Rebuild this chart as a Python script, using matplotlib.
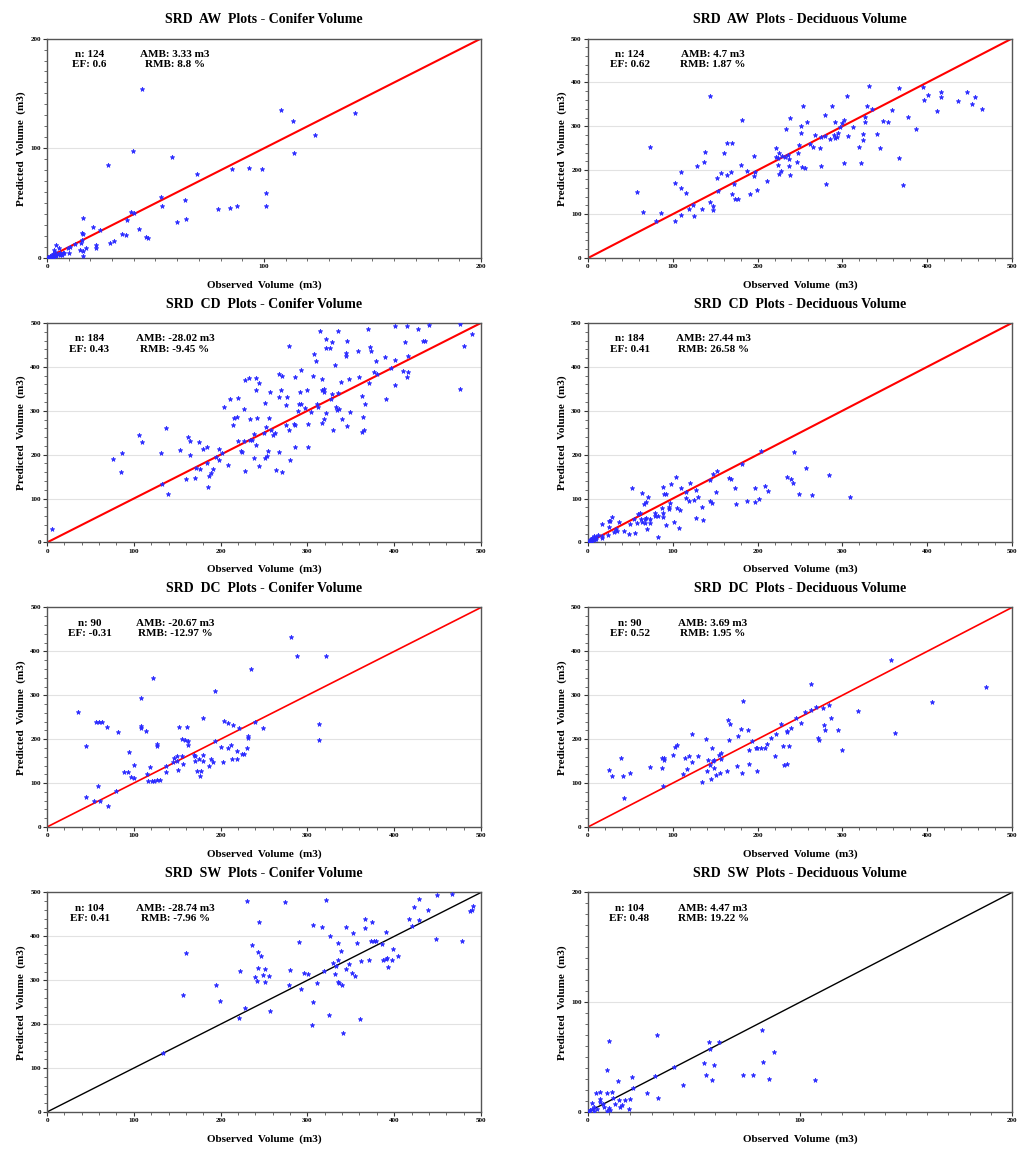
import matplotlib
matplotlib.use('Agg')
import matplotlib.pyplot as plt
from matplotlib.ticker import MultipleLocator

# ---- AW conifer ----
aw_con_obs = [43.9, 107.7, 113.3, 123.4, 142, 114, 39.8, 57.5, 27.9, 69.3, 85.2, 93.1, 99.1, 100.9, 100.9,
              87.4, 84.3, 78.9, 52.7, 53, 63.8, 59.9, 64.1, 38.8, 40.1, 36.7, 42.2, 45.6, 46.7, 34.4, 36.2,
              30.8, 29, 24.2, 21.4, 16.5, 16, 16.8, 15.9, 15.7, 22.6, 22.8, 17.9, 15.1, 16.6, 16.6, 12.9,
              10.5, 9.6, 10.2, 4, 5.4, 3.1, 3.5, 5.1, 6.6, 2.2, 0.5, 1.2, 2.8, 4.3, 5.9, 7.4, 4,
              0, 0.3, 0.8, 1.5, 2, 2.5, 3.2, 6, 7, 8, 1, 0.2]
aw_con_pred = [154, 135, 124.6, 111.9, 132.5, 95.7, 97.3, 92.1, 85.1, 76.6, 81.2, 81.8, 81.2, 59.3, 47.4,
               47.1, 45.6, 44.4, 55.3, 47.1, 52.6, 33.1, 35.3, 42.2, 41.3, 34.7, 26.7, 19.5, 18.5, 22.2, 21,
               15.5, 14, 25.8, 28, 36.5, 22.5, 22.2, 16.7, 13.7, 12.2, 9.4, 9.4, 7, 6.7, 1.8, 12.8,
               10, 9.4, 4.9, 12.2, 9.1, 7.6, 5.5, 4, 3.3, 2.4, 0.9, 1.5, 3.3, 2.4, 4.6, 4.6, 1.5,
               0, 0.5, 0.3, 0.6, 1, 1.8, 0.8, 2.5, 3, 4.2, 0.2, 0]

# ---- AW deciduous ----
aw_dec_obs = [57.9, 65, 73.6, 79.9, 86.2, 102.8, 102.8, 110.2, 110.2, 110.2, 115.7, 119.3, 123.6, 125.6,
              128.3, 135, 137.4, 138.2, 144.5, 143.7, 147.2, 147.2, 152.4, 153.5, 156.7, 161, 163.4, 164.2,
              168.1, 170, 170, 172, 173.2, 176.8, 179.9, 181.5, 187, 190.6, 196.1, 196.5, 195.7, 199.6,
              211.4, 221.7, 221.7, 224, 224.8, 224, 224.8, 227.2, 229.1, 231.9, 233.9, 235.8, 236.6, 237,
              237.8, 238.2, 246.9, 247.6, 248.4, 251.6, 251.6, 252, 253.5, 255.5, 257.9, 261.8, 265.4,
              268.1, 273.2, 274.4, 275.2, 279.1, 279.1, 280.3, 285, 288.2, 290.2, 291.7, 291.7, 294, 295.3,
              296.9, 300, 302, 302, 305.9, 306.7, 312.6, 319.7, 321.7, 324.4, 326.4, 326.4, 324.4, 331.5,
              329.5, 334.6, 341.3, 344.5, 347.6, 353.9, 358.7, 366.9, 367.3, 372.1, 378, 386.6, 395.7,
              396.5, 401.6, 412.2, 416.1, 416.9, 436.6, 447.6, 453.5, 456.7, 464.2]
aw_dec_pred = [150.7, 105.8, 251.9, 83.7, 103.5, 170.5, 83.7, 196.3, 159.1, 97.4, 147.6, 112.6, 121, 95.9,
               210, 112.6, 217.7, 240.5, 368.3, 127.9, 119.5, 109.6, 182.6, 153, 193.3, 239, 262.6, 189.5,
               195.6, 261, 145.4, 169, 135.5, 134, 212.3, 315.1, 197.9, 146.9, 231.4, 197.1, 187.2, 156,
               175, 251.1, 230.6, 228.3, 238.2, 211.6, 192.5, 198.6, 232.1, 230.6, 293, 234.4, 225.3, 209.3,
               318.1, 188.7, 219.2, 238.2, 257.2, 301.4, 285.4, 207.8, 345.5, 204, 309.8, 259.5, 253.4,
               280.1, 249.6, 276.3, 209.3, 326.5, 277.8, 169.7, 270.2, 346.3, 280.1, 309, 272.5, 275.5, 283.9,
               298.3, 308.2, 314.3, 216.9, 369.1, 277.8, 297.6, 251.9, 215.4, 282.6, 321.9, 309, 267.9, 391.9,
               346.3, 338.7, 282.6, 251.1, 312.8, 310.5, 337.1, 388.1, 228.3, 166.7, 321.9, 293, 388.9,
               360.7, 372.1, 334.1, 367.6, 377.5, 357.7, 379, 351.6, 367.6, 338.7]

# ---- CD conifer ----
cd_con_obs = [6.2, 76.3, 85.9, 84.7, 106.3, 109, 131, 132.9, 137.1, 139.1, 153.7, 160.3, 162.2, 165.3, 165.3,
              171, 172.2, 174.9, 176.4, 180.3, 184.2, 184.9, 185.7, 187.2, 189.5, 191.8, 194.2, 198, 198.4,
              201.8, 204.2, 208.4, 210.3, 213.8, 215.7, 218.8, 219.6, 220.3, 223.4, 224.2, 226.5, 227.3,
              228.5, 228.5, 232.7, 233.5, 234.3, 236.2, 238.1, 238.1, 240.4, 240.8, 241.2, 241.9, 243.9,
              244.2, 249.6, 251.5, 251.5, 251.9, 253.5, 255, 255.4, 256.9, 258.5, 260.8, 263.1, 263.5, 267,
              267.3, 267.7, 269.6, 270.8, 270.8, 275.5, 275, 276.6, 278.5, 279.3, 280.1, 284.4, 285.4, 285.8,
              286.2, 289.3, 290, 291.2, 292.4, 293.1, 297.8, 300.1, 300.5, 300.5, 304.7, 306.3, 307.4, 309.7,
              310.9, 312, 314.7, 316.3, 317.4, 317.4, 319, 319.3, 319, 320.9, 321.3, 321.7, 325.9, 327.8,
              326.7, 328.6, 329.8, 331.7, 332.4, 333.6, 335.2, 335.2, 336.3, 338.2, 340.2, 344.4, 344.8,
              345.9, 345.9, 348.3, 349.4, 358.6, 359, 362.5, 363.3, 363.6, 365.2, 366.7, 370.2, 370.9, 372.1,
              373.7, 376.7, 379.4, 380.6, 389.1, 390.2, 396.8, 400.6, 400.6, 400.6, 410.2, 412.5, 414.9, 416,
              416, 415.3, 427.6, 433.4, 435.3, 439.6, 475.8, 476.1, 480, 489.2]
cd_con_pred = [30.4, 189.5, 204.7, 161.3, 245.8, 229.8, 204.7, 133.9, 261, 109.6, 210, 144.6, 241.2, 230.6,
               199.4, 146.1, 170.5, 228.3, 166.7, 213.9, 218.4, 181.9, 127.1, 152.2, 157.5, 168.2, 195.6, 213.1,
               188, 204, 309.7, 176.6, 326.5, 267.9, 283.1, 286, 232.1, 328.8, 208.5, 205.5, 304.4, 232.1,
               162.1, 370.6, 373.7, 280.9, 232.9, 232.9, 247.3, 193.3, 373.7, 222.2, 346.3, 283.1, 362.3,
               174.3, 248.9, 317.3, 191.8, 263.3, 197.9, 209.3, 283.9, 341.7, 256.5, 244.3, 248.9, 165.1, 205.5,
               330.3, 384.3, 347.1, 379.8, 159.8, 268.7, 312.8, 330.3, 447.5, 256.5, 187.2, 270.2, 267.9, 376.7,
               218.4, 299.8, 315.1, 343.2, 392.7, 314.3, 305.9, 346.3, 270.2, 218.4, 297.5, 379.8, 429.2, 413.2,
               314.3, 309.7, 481.7, 346.3, 372.1, 273.2, 342.5, 350.1, 281.6, 295.3, 462.7, 442.2, 442.2, 456.6,
               325.7, 337.9, 257.2, 404.1, 309.7, 302.1, 481.7, 340.9, 303.7, 365.3, 281.6, 425.4, 431.5,
               458.1, 264.8, 372.1, 297.5, 436.8, 375.9, 251.9, 333.3, 286.1, 256.5, 314.3, 486.3, 362.3, 444.5,
               436.1, 387.4, 414, 382.8, 422.4, 327.2, 398, 493.9, 414.8, 357.7, 389.7, 455.9, 493.2, 423.9,
               387.4, 376.7, 486.3, 458.1, 459.6, 494.7, 497, 349.3, 446.7, 475.6]

# ---- CD deciduous ----
cd_dec_obs = [203.5, 243.3, 257.5, 283.9, 181.1, 151.6, 146.9, 144.5, 168.9, 166.9, 235, 239.8, 241.7, 248.8,
              264.6, 309.1, 209.1, 212.6, 196.9, 201.6, 196.5, 187, 174.4, 173.2, 150.8, 146.5, 144.5, 135,
              136.2, 127.6, 130.3, 125.2, 127.2, 120.1, 115.7, 115.7, 118.9, 109.4, 103.5, 97.6, 108.3, 105.1,
              101.2, 107.5, 97.2, 96.1, 95.3, 90.2, 92.5, 88.2, 87.8, 89, 89, 91.7, 82.7, 79.5, 78.7, 82.7,
              73.6, 73.6, 68.1, 69.3, 67.7, 70.5, 66.5, 68.1, 64.2, 67.3, 64.2, 61, 59.4, 63, 58.3, 53.9, 52,
              55.5, 48.8, 49.6, 42.1, 37, 34.3, 31.1, 33.1, 28.3, 26.4, 25.2, 24, 24.4, 16.9, 16.5, 16.5, 9.8,
              9.8, 6.7, 4.7, 6.7, 2.8, 1.6, 11.4, 8.7, 4.7, 0.5, 2, 3.5]
cd_dec_pred = [208.5, 206.2, 169.7, 154.5, 179.6, 163.6, 155.3, 142.3, 143.8, 146.1, 149.2, 145.4, 134.7, 110.4,
               108.1, 102.7, 127.9, 117.2, 124.8, 98.2, 92.8, 93.6, 88.3, 124.8, 114.9, 90.6, 94.4, 81.4,
               51, 55.3, 104.3, 96.7, 119.5, 136.2, 114.9, 100.5, 94.4, 124.8, 148.4, 133.2, 73.8, 77.6,
               45.7, 32.7, 89, 81.4, 76.9, 110.4, 110.4, 125.6, 79.1, 67.7, 57.1, 38.8, 11.4, 66.2, 60.3, 60.3,
               54.1, 43.4, 56.3, 29.7, 44.1, 103.5, 87.5, 92.8, 113.4, 54.1, 46.4, 67.7, 63.9, 52.5, 43.4, 54,
               124.8, 21.3, 19.8, 42.6, 25.1, 45.7, 26.6, 22.8, 29.7, 58.6, 49.5, 34.2, 16.7, 49.5, 41.9, 9.9,
               15.2, 12.9, 8.4, 14.5, 9.9, 5.3, 5.3, 2.3, 16.7, 6.8, 3.8, 0.5, 1, 8]

# ---- DC conifer ----
dc_con_obs = [36.2, 45.5, 45.5, 54.3, 57, 59.7, 62.8, 58.2, 61.2, 69, 70.5, 79.4, 81.7, 88.2, 93.6, 94, 96.7,
              100.2, 100.2, 107.9, 107.9, 108.2, 113.6, 122.5, 115.2, 118.6, 116.8, 120.6, 123.7, 126.3,
              130.2, 126.3, 126.3, 137.1, 137.1, 145.6, 146.8, 150.2, 155.2, 150.2, 150.6, 152.5, 155.2,
              157.2, 159.1, 161, 162.2, 162.2, 169.5, 170.6, 170.6, 173.3, 175.7, 176.4, 177.6, 179.9, 179.9,
              179.9, 187.2, 188.8, 190.7, 193, 194.1, 200, 202.3, 204.2, 208, 208, 212.3, 213.8, 213.1, 218.8,
              218.8, 221.6, 224.6, 226.5, 230.4, 231.5, 231.5, 235.4, 240, 248.8, 280.8, 288.1, 313.2, 313.2,
              322]
dc_con_pred = [262.9, 185.4, 69.1, 59.3, 240.1, 240.1, 240.1, 94.2, 58.5, 228, 47.9, 82.8, 215.8, 126.1, 126.1,
               171, 113.2, 111.7, 142.1, 294.1, 231, 225.7, 219.6, 338.9, 121.6, 137.5, 104.1, 104.1, 104.1,
               106.4, 106.4, 189.2, 185.4, 139.8, 124.6, 147.4, 157.3, 161.9, 161.9, 151.2, 129.2, 227.2,
               200.6, 143.6, 198.3, 227.2, 196.8, 186.2, 164.9, 161.1, 149.7, 126.9, 155, 115.5, 128.4, 164.1,
               151.2, 247.7, 139.8, 155, 147.4, 196.8, 309.3, 183.1, 148.2, 242.4, 179.3, 236.3, 187.7, 231.8,
               155, 174, 155, 225, 166.4, 166.4, 180.9, 208.2, 202.1, 360.9, 238.6, 225.7, 432.4, 389.8, 234.8,
               199.1, 390.6]

# ---- DC deciduous ----
dc_dec_obs = [25.2, 28.3, 39.4, 42.1, 41.7, 49.6, 72.8, 87.4, 87.4, 88.2, 89.4, 89.4, 100.8, 102.4, 105.5,
              112.2, 114.6, 117.3, 119.7, 122.8, 122.8, 129.5, 135, 139.4, 139.8, 142.1, 144.1, 145.3, 146.1,
              148, 148.8, 149.2, 151.2, 154.3, 155.5, 156.7, 156.7, 163.8, 165.4, 166.5, 167.7, 175.6, 176.4,
              180.3, 181.5, 183.1, 188.6, 189.4, 190.2, 193.7, 197.6, 199.6, 199.6, 203.5, 209.1, 210.6,
              215.4, 220.5, 221.7, 228, 229.5, 231.1, 234.3, 235, 235, 236.6, 239, 245.7, 251.2, 255.9,
              263.4, 263.4, 268.9, 270.9, 272, 277.6, 278.3, 279.5, 284.6, 286.6, 294.9, 300, 318.1, 357.9,
              362.6, 405.5, 468.9]
dc_dec_pred = [129.2, 117, 157.3, 66.9, 117, 123.9, 136.8, 157.3, 135.3, 94.2, 157.3, 152.7, 164.9, 181.6, 186.2,
               120.8, 156.5, 131.5, 162.6, 148.2, 212, 161.1, 103.3, 201.4, 127.7, 152.7, 142.1, 110.2, 179.3,
               149.7, 152.7, 133.7, 119.3, 164.1, 123.1, 155, 167.9, 126.9, 244.7, 198.3, 234, 139.8, 207.4,
               224.2, 123.9, 287.2, 221.1, 142.9, 175.5, 195.3, 180.1, 180.1, 126.9, 180.1, 180.9, 188.4,
               202.9, 161.1, 212.8, 235.6, 183.9, 140.6, 219.6, 216.6, 143.6, 185.4, 226.4, 249.2, 236.3, 261.4,
               267.5, 325.2, 273.6, 202.1, 197.6, 271.3, 231.8, 221.1, 278.9, 247.7, 221.1, 176.3, 263.7, 379.9,
               215, 285.7, 319.1]

# ---- SW conifer ----
sw_con_obs = [133.7, 157.2, 159.9, 194.5, 199.2, 221.5, 221.9, 228.4, 230.7, 235.7, 240, 242.4, 242.7, 243.1,
              243.9, 246.5, 249.2, 250.8, 250.8, 255.4, 257.3, 274.7, 279.7, 278.9, 290.1, 292.8, 296.3, 301.2,
              306.7, 306.2, 305.1, 311.2, 317, 318.9, 321.6, 324.7, 325.9, 329.7, 331.3, 332.4, 335.1, 335.1,
              335.1, 336.3, 338.2, 339.4, 341.3, 344, 344, 347.9, 351.4, 353, 355.2, 356.7, 361.4, 360.9,
              366.3, 366.3, 370.6, 372.9, 374.4, 376.7, 379.4, 385.6, 386.8, 390.2, 390.6, 392.1, 392.9,
              397.1, 398.3, 404.9, 417.2, 420.6, 423, 429.1, 429.1, 439.5, 448.8, 448.4, 466.5, 477.7, 487.3,
              489.6, 491.1]
sw_con_pred = [133.7, 267.5, 363.2, 289.5, 253, 213.5, 320.7, 237.1, 479.5, 379.9, 307, 297.9, 364, 327.5,
               433.1, 354.9, 313.1, 325.2, 297.1, 309.3, 229.5, 478, 323, 289.5, 386.8, 280.4, 316.1, 313.8,
               424.8, 250.8, 198.3, 294.1, 421.7, 322.2, 484, 221.1, 401.2, 339.7, 313.8, 333.6, 384.5, 345.7,
               295.6, 294.8, 366.3, 290.3, 179.3, 325.2, 421, 338.1, 317.6, 408.1, 309.3, 386, 344.2, 212.8,
               420.2, 440.7, 347.3, 389.1, 432.4, 389.1, 389.1, 382.2, 345.7, 410.3, 348, 351.8, 330.5,
               346.5, 371.6, 354.9, 440, 423.3, 467.3, 438.4, 484.8, 459.7, 493.9, 394.4, 496.2, 390.6, 458.2,
               459.7, 469.6]

# ---- SW deciduous ----
sw_dec_obs = [32.6, 10.1, 82, 57.3, 61.6, 57.8, 87.6, 82.4, 59.4, 54.5, 40.8, 9.1, 31.8, 55.9, 58.4, 73.1, 77.8,
              85.5, 107.2, 45, 20.9, 14.2, 21.3, 27.9, 32.9, 9, 11.5, 5.8, 3.9, 11.7, 14.8, 17.6, 19.7, 5.8,
              5.5, 7.1, 12.9, 16.1, 15.3, 19.2, 9.8, 10.2, 2.7, 1.9, 1.1, 4.3, 7.7, 0.3, 3, 9, 1.9]
sw_dec_pred = [69.9, 64.4, 75.1, 63.5, 63.5, 57.1, 55, 45.9, 42.9, 45, 41, 38, 32.5, 33.4, 29.5, 33.4, 33.4,
               30.1, 28.9, 24.9, 31.6, 28.6, 21.9, 17.6, 12.5, 17.6, 18.5, 17.9, 17.3, 12.8, 11.2, 10.9, 12.2,
               11.6, 8.8, 7.3, 7.6, 6.1, 4.6, 3, 4, 2.1, 4.6, 8.2, 2.1, 3, 4.6, 0.9, 0.9, 0.9, 3]

titles = ['SRD  AW  Plots - Conifer Volume', 'SRD  AW  Plots - Deciduous Volume',
          'SRD  CD  Plots - Conifer Volume', 'SRD  CD  Plots - Deciduous Volume',
          'SRD  DC  Plots - Conifer Volume', 'SRD  DC  Plots - Deciduous Volume',
          'SRD  SW  Plots - Conifer Volume', 'SRD  SW  Plots - Deciduous Volume']
axis_max = [200, 500, 500, 500, 500, 500, 500, 200]
n_text = ['n: 124\nEF: 0.6', 'n: 124\nEF: 0.62', 'n: 184\nEF: 0.43', 'n: 184\nEF: 0.41',
          'n: 90\nEF: -0.31', 'n: 90\nEF: 0.52', 'n: 104\nEF: 0.41', 'n: 104\nEF: 0.48']
bias_text = ['AMB: 3.33 m3\nRMB: 8.8 %', 'AMB: 4.7 m3\nRMB: 1.87 %',
             'AMB: -28.02 m3\nRMB: -9.45 %', 'AMB: 27.44 m3\nRMB: 26.58 %',
             'AMB: -20.67 m3\nRMB: -12.97 %', 'AMB: 3.69 m3\nRMB: 1.95 %',
             'AMB: -28.74 m3\nRMB: -7.96 %', 'AMB: 4.47 m3\nRMB: 19.22 %']
line_colors = ['#ff0000'] * 6 + ['#000000'] * 2
line_widths = [1.5, 1.5, 1.5, 1.5, 1.2, 1.2, 1.0, 1.0]

series = [(aw_con_obs, aw_con_pred), (aw_dec_obs, aw_dec_pred),
          (cd_con_obs, cd_con_pred), (cd_dec_obs, cd_dec_pred),
          (dc_con_obs, dc_con_pred), (dc_dec_obs, dc_dec_pred),
          (sw_con_obs, sw_con_pred), (sw_dec_obs, sw_dec_pred)]

plt.rcParams['font.family'] = ['Liberation Serif', 'DejaVu Serif']
plt.rcParams['font.weight'] = 'bold'

fig = plt.figure(figsize=(10.24, 11.51), dpi=100)
col_left = [0.0459, 0.5742]
col_width = [0.4238, 0.414]
row_bottom = [0.7758, 0.5287, 0.2815, 0.0339]
row_height = 0.1907

for i, (obs, pred) in enumerate(series):
    r, c = divmod(i, 2)
    ax = fig.add_axes([col_left[c], row_bottom[r], col_width[c], row_height])
    vmax = axis_max[i]
    major = 100
    minor = 10 if vmax == 200 else 20

    for g in range(major, vmax, major):
        ax.axhline(g, color='#e2e2e2', lw=0.8, zorder=0)

    ax.plot([0, vmax], [0, vmax], color=line_colors[i], lw=line_widths[i], zorder=2)
    ax.plot(obs, pred, linestyle='none', marker='*', ms=3.4, color='#2a2aff',
            markeredgewidth=0.5, zorder=3)

    ax.set_xlim(0, vmax)
    ax.set_ylim(0, vmax)
    ax.xaxis.set_major_locator(MultipleLocator(major))
    ax.yaxis.set_major_locator(MultipleLocator(major))
    ax.xaxis.set_minor_locator(MultipleLocator(minor))
    ax.yaxis.set_minor_locator(MultipleLocator(minor))
    ax.tick_params(which='major', direction='out', length=3, width=0.8, labelsize=5,
                   colors='#333333', pad=1.5)
    ax.tick_params(which='minor', direction='out', length=2, width=0.6, colors='#555555')
    for lab in ax.get_xticklabels() + ax.get_yticklabels():
        lab.set_fontweight('bold')
        lab.set_color('black')
    for sp in ax.spines.values():
        sp.set_color('#555555')
        sp.set_linewidth(1.0)

    ax.set_title(titles[i], fontsize=10, fontweight='bold', pad=11)
    ax.set_xlabel('Observed  Volume  (m3)', fontsize=8, fontweight='bold', labelpad=8)
    ax.set_ylabel('Predicted  Volume  (m3)', fontsize=8, fontweight='bold', labelpad=3)

    ax.text(0.098, 0.948, n_text[i], transform=ax.transAxes, ha='center', va='top',
            multialignment='center', fontsize=8, fontweight='bold', linespacing=1.2)
    ax.text(0.295, 0.948, bias_text[i], transform=ax.transAxes, ha='center', va='top',
            multialignment='center', fontsize=8, fontweight='bold', linespacing=1.2)

fig.savefig('out.png', dpi=100)
